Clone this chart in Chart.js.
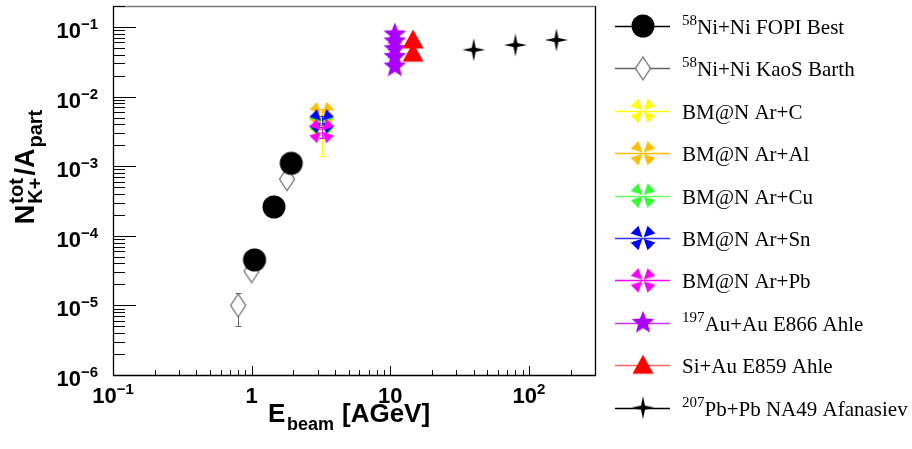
<!DOCTYPE html>
<html>
<head>
<meta charset="utf-8">
<script src="https://cdn.jsdelivr.net/npm/chart.js@4.4.0/dist/chart.umd.min.js"></script>
<style>
  html, body { margin: 0; padding: 0; background: #fff; }
  canvas { display: block; }
</style>
</head>
<body>
<canvas id="kaonChart" width="912" height="449"></canvas>
<script>
// --- datos ---
const fopiE = [1.05, 1.45, 1.93];
const fopiR = [4.5e-5, 2.6e-4, 1.1e-3];

const kaosE = [0.8, 1.0, 1.8];
const kaosR = [1.0e-5, 3.1e-5, 6.5e-4];
const kaosErr = [5e-6, 3e-6, 6e-5];

const bmnE = [3.2];
const arCR = [4.0e-3];  const arCErr = [2.6e-3];
const arAlR = [5.6e-3]; const arAlErr = [1.0e-3];
const arCuR = [4.2e-3]; const arCuErr = [0.8e-3];
const arSnR = [4.4e-3]; const arSnErr = [0.8e-3];
const arPbR = [3.2e-3]; const arPbErr = [0.7e-3];

const e866E = [10.8, 10.8, 10.8, 10.8, 10.8];
const e866R = [0.078, 0.062, 0.048, 0.037, 0.027];

const e859E = [14.6, 14.6];
const e859R = [0.065, 0.042];

const na49E = [40, 80, 158];
const na49R = [0.047, 0.055, 0.065];

const legendSup = ['58', '58', '', '', '', '', '', '197', '', '207'];
const legendText = ['Ni+Ni FOPI Best', 'Ni+Ni KaoS Barth', 'BM@N Ar+C', 'BM@N Ar+Al', 'BM@N Ar+Cu',
                    'BM@N Ar+Sn', 'BM@N Ar+Pb', 'Au+Au E866 Ahle', 'Si+Au E859 Ahle', 'Pb+Pb NA49 Afanasiev'];

const xTickValues = [0.1, 1, 10, 100];
const xTickBase = ['10', '1', '10', '10'];
const xTickSup = ['\u22121', '', '', '2'];
const yTickValues = [1e-6, 1e-5, 1e-4, 1e-3, 1e-2, 1e-1];
const yTickSup = ['\u22126', '\u22125', '\u22124', '\u22123', '\u22122', '\u22121'];

// --- marcadores estilo ROOT ---
function makeMarker(kind, fill, stroke) {
    const s = 30, c = s / 2;
    const cv = document.createElement('canvas');
    cv.width = s; cv.height = s;
    const g = cv.getContext('2d');
    g.fillStyle = fill;
    g.strokeStyle = stroke || fill;
    g.beginPath();
    if (kind === 'circle') {
        g.arc(c, c, 11.5, 0, Math.PI * 2);
        g.fill();
    } else if (kind === 'diamond') {
        g.moveTo(c, c - 11.5); g.lineTo(c + 7.5, c); g.lineTo(c, c + 11.5); g.lineTo(c - 7.5, c);
        g.closePath();
        g.fillStyle = '#fff';
        g.fill();
        g.lineWidth = 1.2;
        g.stroke();
    } else if (kind === 'crossx') {
        for (let k = 0; k < 4; k++) {
            const a = Math.PI / 4 + k * Math.PI / 2;
            const dx = Math.cos(a), dy = Math.sin(a);
            const px = -dy, py = dx;
            g.moveTo(c + dx * 1, c + dy * 1);
            g.lineTo(c + dx * 12 + px * 5.5, c + dy * 12 + py * 5.5);
            g.lineTo(c + dx * 12 - px * 5.5, c + dy * 12 - py * 5.5);
            g.closePath();
        }
        g.fill();
    } else if (kind === 'star5') {
        for (let k = 0; k < 10; k++) {
            const r = k % 2 === 0 ? 12 : 5.2;
            const a = -Math.PI / 2 + k * Math.PI / 5;
            const x = c + r * Math.cos(a), y = c + r * Math.sin(a);
            if (k === 0) g.moveTo(x, y); else g.lineTo(x, y);
        }
        g.closePath();
        g.fill();
    } else if (kind === 'triangle') {
        g.moveTo(c, c - 10.5); g.lineTo(c + 10.5, c + 8.5); g.lineTo(c - 10.5, c + 8.5);
        g.closePath();
        g.fill();
    } else if (kind === 'star4') {
        for (let k = 0; k < 8; k++) {
            const r = k % 2 === 0 ? 11.5 : 2.8;
            const a = -Math.PI / 2 + k * Math.PI / 4;
            const x = c + r * Math.cos(a), y = c + r * Math.sin(a);
            if (k === 0) g.moveTo(x, y); else g.lineTo(x, y);
        }
        g.closePath();
        g.fill();
    }
    return cv;
}

function toPoints(xs, ys) {
    return ys.map((y, i) => ({ x: xs.length === 1 ? xs[0] : xs[i], y: y }));
}

const series = [
    { e: fopiE, r: fopiR, err: null, color: '#000', line: '#000', marker: makeMarker('circle', '#000'), order: -1.5 },
    { e: kaosE, r: kaosR, err: kaosErr, color: '#666', line: '#666', marker: makeMarker('diamond', '#fff', '#666'), order: -1 },
    { e: bmnE, r: arCR, err: arCErr, color: '#ffff00', line: '#ffff00', marker: makeMarker('crossx', '#ffff00'), order: -2 },
    { e: bmnE, r: arAlR, err: arAlErr, color: '#ffbf00', line: '#ffbf00', marker: makeMarker('crossx', '#ffbf00'), order: -3 },
    { e: bmnE, r: arCuR, err: arCuErr, color: '#33ff33', line: '#66ff66', marker: makeMarker('crossx', '#33ff33'), order: -4 },
    { e: bmnE, r: arSnR, err: arSnErr, color: '#0000ff', line: '#3333ff', marker: makeMarker('crossx', '#0000ff'), order: -5 },
    { e: bmnE, r: arPbR, err: arPbErr, color: '#ff00ff', line: '#ff00ff', marker: makeMarker('crossx', '#ff00ff'), order: -6 },
    { e: e866E, r: e866R, err: null, color: '#aa00ff', line: '#cc33ff', marker: makeMarker('star5', '#aa00ff'), order: -7 },
    { e: e859E, r: e859R, err: null, color: '#ff0000', line: '#ff6666', marker: makeMarker('triangle', '#ff0000'), order: -8 },
    { e: na49E, r: na49R, err: null, color: '#000', line: '#000', marker: makeMarker('star4', '#000'), order: -9 }
];

// --- plugin para ejes, barras de error y leyenda estilo ROOT ---
function drawSupText(ctx, base, sup, x, y, baseFont, supFont, rise, align) {
    ctx.font = baseFont;
    const wb = ctx.measureText(base).width;
    ctx.font = supFont;
    const ws = sup ? ctx.measureText(sup).width : 0;
    const total = wb + ws;
    let x0 = x;
    if (align === 'center') x0 = x - total / 2;
    else if (align === 'right') x0 = x - total;
    ctx.textAlign = 'left';
    ctx.font = baseFont;
    ctx.fillText(base, x0, y);
    if (sup) {
        ctx.font = supFont;
        ctx.fillText(sup, x0 + wb, y - rise);
    }
}

const rootStylePlugin = {
    id: 'rootStyle',
    beforeDatasetsDraw(chart) {
        const ctx = chart.ctx;
        const xs = chart.scales.x, ys = chart.scales.y;
        ctx.save();
        ctx.lineWidth = 1;
        series.forEach(s => {
            if (!s.err) return;
            ctx.strokeStyle = s.color;
            s.r.forEach((v, i) => {
                const px = Math.round(xs.getPixelForValue(s.e.length === 1 ? s.e[0] : s.e[i])) + 0.5;
                const yl = ys.getPixelForValue(v - s.err[i]);
                const yh = ys.getPixelForValue(v + s.err[i]);
                ctx.beginPath();
                ctx.moveTo(px, yl); ctx.lineTo(px, yh);
                ctx.moveTo(px - 3, Math.round(yl) + 0.5); ctx.lineTo(px + 3, Math.round(yl) + 0.5);
                ctx.moveTo(px - 3, Math.round(yh) + 0.5); ctx.lineTo(px + 3, Math.round(yh) + 0.5);
                ctx.stroke();
            });
        });
        ctx.restore();
    },
    afterDraw(chart) {
        const ctx = chart.ctx;
        const a = chart.chartArea;
        const xs = chart.scales.x, ys = chart.scales.y;
        ctx.save();

        // marco
        ctx.lineWidth = 1.3;
        ctx.strokeStyle = '#777';
        ctx.beginPath();
        ctx.moveTo(a.left, a.top + 0.5); ctx.lineTo(a.right, a.top + 0.5);
        ctx.stroke();
        ctx.strokeStyle = '#000';
        ctx.beginPath();
        ctx.moveTo(a.left + 0.5, a.top); ctx.lineTo(a.left + 0.5, a.bottom + 0.5);
        ctx.lineTo(a.right + 0.5, a.bottom + 0.5); ctx.lineTo(a.right + 0.5, a.top);
        ctx.stroke();

        // marcas del eje y (hacia dentro)
        ctx.lineWidth = 1;
        ctx.strokeStyle = '#000';
        ctx.beginPath();
        for (let d = -6; d <= -1; d++) {
            for (let k = 1; k <= 9; k++) {
                const v = k * Math.pow(10, d);
                if (v > ys.max || v < ys.min) continue;
                const py = Math.round(ys.getPixelForValue(v)) + 0.5;
                const len = k === 1 ? 23 : 12;
                ctx.moveTo(a.left, py); ctx.lineTo(a.left + len, py);
            }
        }
        // marcas del eje x
        for (let d = -1; d <= 2; d++) {
            for (let k = 1; k <= 9; k++) {
                const v = k * Math.pow(10, d);
                if (v > xs.max || v < xs.min) continue;
                const px = Math.round(xs.getPixelForValue(v)) + 0.5;
                const len = k === 1 ? 9 : 5;
                ctx.moveTo(px, a.bottom); ctx.lineTo(px, a.bottom - len);
            }
        }
        ctx.stroke();

        // etiquetas
        ctx.fillStyle = '#000';
        ctx.textBaseline = 'alphabetic';
        const tickFont = 'bold 22px "Liberation Sans", Arial, sans-serif';
        const supFont = 'bold 15px "Liberation Sans", Arial, sans-serif';
        yTickValues.forEach((v, i) => {
            const py = ys.getPixelForValue(v);
            drawSupText(ctx, '10', yTickSup[i], 98, py + 11, tickFont, supFont, 9, 'right');
        });
        xTickValues.forEach((v, i) => {
            const px = xs.getPixelForValue(v);
            drawSupText(ctx, xTickBase[i], xTickSup[i], px, 403, tickFont, supFont, 9, 'center');
        });

        // titulo eje x
        const titleFont = 'bold 26px "Liberation Sans", Arial, sans-serif';
        const subFont = 'bold 18px "Liberation Sans", Arial, sans-serif';
        ctx.textAlign = 'left';
        ctx.font = titleFont;
        ctx.fillText('E', 268, 422);
        ctx.font = subFont;
        ctx.fillText('beam', 287, 430);
        ctx.font = titleFont;
        ctx.fillText('[AGeV]', 342, 422);

        // titulo eje y (rotado)
        const yTitleFont = 'bold 27px "Liberation Sans", Arial, sans-serif';
        const ySubFont = 'bold 20px "Liberation Sans", Arial, sans-serif';
        ctx.save();
        ctx.translate(34, 167);
        ctx.rotate(-Math.PI / 2);
        ctx.font = yTitleFont;
        const wN = ctx.measureText('N').width;
        const wA = ctx.measureText('/A').width;
        ctx.font = ySubFont;
        const wTot = ctx.measureText('tot').width;
        const wK = ctx.measureText('K+').width;
        const wPart = ctx.measureText('part').width;
        const total = wN + Math.max(wTot, wK) + wA + wPart + 4;
        let tx = -total / 2;
        ctx.font = yTitleFont;
        ctx.fillText('N', tx, 0);
        tx += wN + 1;
        ctx.font = ySubFont;
        ctx.fillText('tot', tx, -11);
        ctx.fillText('K+', tx, 8);
        tx += Math.max(wTot, wK) + 2;
        ctx.font = yTitleFont;
        ctx.fillText('/A', tx, 0);
        tx += wA + 1;
        ctx.font = ySubFont;
        ctx.fillText('part', tx, 8);
        ctx.restore();

        // leyenda
        const legFont = '21px "Liberation Serif", "Times New Roman", serif';
        const legSupFont = '15px "Liberation Serif", "Times New Roman", serif';
        series.forEach((s, i) => {
            const cy = 26 + i * 42.4;
            ctx.strokeStyle = s.line;
            ctx.lineWidth = 1.3;
            ctx.beginPath();
            ctx.moveTo(615, Math.round(cy) + 0.5); ctx.lineTo(670, Math.round(cy) + 0.5);
            ctx.stroke();
            ctx.drawImage(s.marker, 643 - s.marker.width / 2, cy - s.marker.height / 2);
            ctx.fillStyle = '#000';
            let lx = 682;
            if (legendSup[i]) {
                ctx.font = legSupFont;
                ctx.fillText(legendSup[i], lx, cy - 1);
                lx += ctx.measureText(legendSup[i]).width;
            }
            ctx.font = legFont;
            ctx.fillText(legendText[i], lx, cy + 8);
        });
        ctx.restore();
    }
};

const chartConfig = {
    type: 'scatter',
    data: {
        datasets: series.map((s, i) => ({
            label: legendText[i],
            data: toPoints(s.e, s.r),
            pointStyle: s.marker,
            pointRadius: 5,
            showLine: false,
            order: s.order,
            clip: false
        }))
    },
    options: {
        responsive: false,
        animation: false,
        events: [],
        layout: { padding: { left: 113, right: 317, top: 4, bottom: 74 } },
        plugins: { legend: { display: false }, tooltip: { enabled: false } },
        scales: {
            x: { type: 'logarithmic', min: 0.1, max: 300, display: false },
            y: { type: 'logarithmic', min: 1e-6, max: 0.2, display: false }
        }
    },
    plugins: [rootStylePlugin]
};

document.addEventListener('DOMContentLoaded', function () {
    new Chart(document.getElementById('kaonChart').getContext('2d'), chartConfig);
});
</script>
</body>
</html>
